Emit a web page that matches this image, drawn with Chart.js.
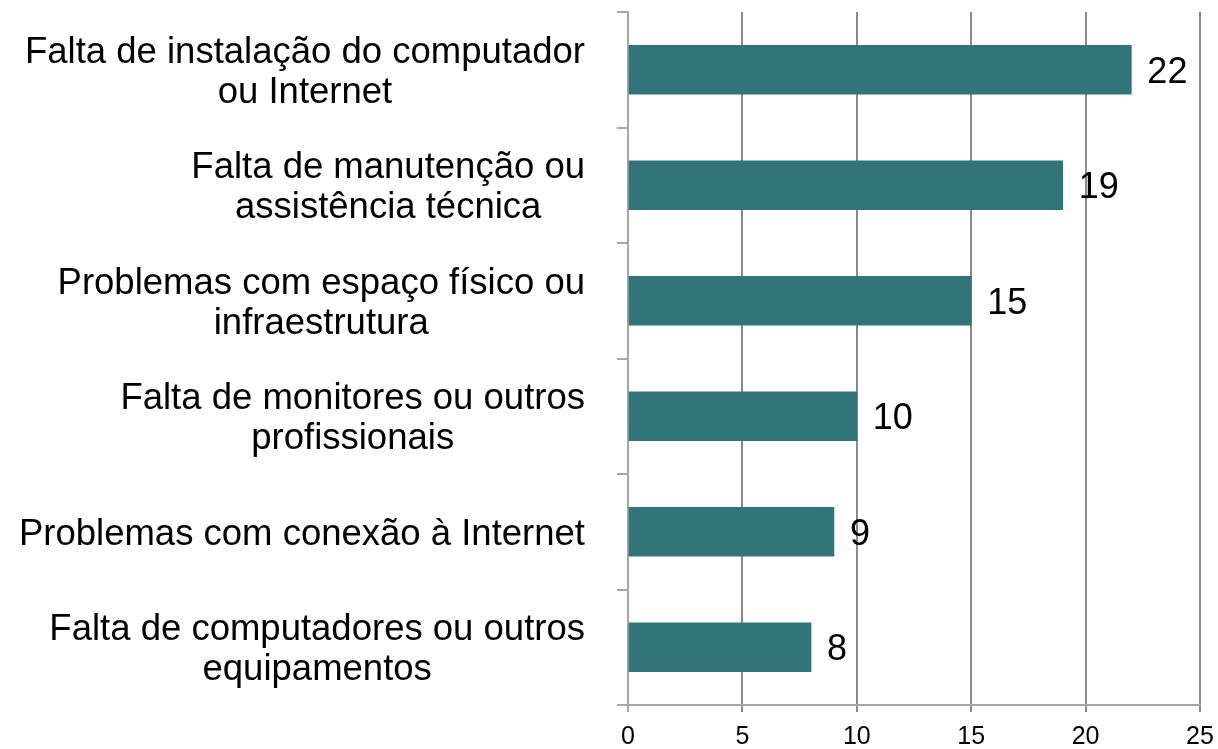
<!DOCTYPE html>
<html>
<head>
<meta charset="utf-8">
<script src="https://cdn.jsdelivr.net/npm/chart.js@4/dist/chart.umd.min.js"></script>
<style>
  html, body { margin: 0; padding: 0; background: #ffffff; }
  #wrap { width: 1218px; height: 749px; position: relative; }
</style>
</head>
<body>
<div id="wrap"><canvas id="chart"></canvas></div>
<script>
// categorias (de cima para baixo)
const categories = [
    ['Falta de instalação do computador', 'ou Internet'],
    ['Falta de manutenção ou', 'assistência técnica'],
    ['Problemas com espaço físico ou', 'infraestrutura'],
    ['Falta de monitores ou outros', 'profissionais'],
    ['Problemas com conexão à Internet'],
    ['Falta de computadores ou outros', 'equipamentos']
];
const values = [22, 19, 15, 10, 9, 8];
const xTicks = [0, 5, 10, 15, 20, 25];

const FONT = '"Liberation Sans", Arial, sans-serif';

// rótulos das categorias: bloco alinhado à direita, linhas centralizadas entre si
const categoryLabels = {
    id: 'categoryLabels',
    afterDraw(chart) {
        const ctx = chart.ctx;
        const yScale = chart.scales.y;
        const right = yScale.right - 43;
        const lineH = 40;
        ctx.save();
        ctx.font = '36.5px ' + FONT;
        ctx.fillStyle = '#000000';
        ctx.textAlign = 'center';
        ctx.textBaseline = 'middle';
        categories.forEach((lines, i) => {
            const y = yScale.getPixelForValue(i) + 3;
            const maxW = Math.max(...lines.map(l => ctx.measureText(l).width));
            const cx = right - maxW / 2;
            const top = y - (lines.length - 1) * lineH / 2;
            lines.forEach((l, j) => ctx.fillText(l, cx, top + j * lineH));
        });
        ctx.restore();
    }
};

// rótulos de valor no fim das barras
const valueLabels = {
    id: 'valueLabels',
    afterDatasetsDraw(chart) {
        const ctx = chart.ctx;
        const meta = chart.getDatasetMeta(0);
        ctx.save();
        ctx.font = '36px ' + FONT;
        ctx.fillStyle = '#000000';
        ctx.textAlign = 'left';
        ctx.textBaseline = 'middle';
        meta.data.forEach((bar, i) => {
            ctx.fillText(String(values[i]), bar.x + 16, bar.y + 3);
        });
        ctx.restore();
    }
};

const ctx = document.getElementById('chart').getContext('2d');
new Chart(ctx, {
    type: 'bar',
    data: {
        labels: categories,
        datasets: [{
            data: values,
            backgroundColor: '#317578',
            borderWidth: 0,
            barThickness: 49
        }]
    },
    options: {
        indexAxis: 'y',
        responsive: true,
        maintainAspectRatio: false,
        animation: false,
        layout: { padding: { top: 12, right: 18, left: 0, bottom: 0 } },
        plugins: {
            legend: { display: false },
            tooltip: { enabled: false }
        },
        scales: {
            x: {
                min: 0,
                max: 25,
                afterBuildTicks: (scale) => {
                    scale.ticks = xTicks.map(v => ({ value: v }));
                },
                afterFit: (scale) => {
                    scale.height = 44;
                    scale.paddingLeft = 0;
                    scale.paddingRight = 0;
                },
                border: { display: true, color: '#a6a6a6', width: 2 },
                grid: {
                    color: (c) => c.index === 0 ? '#a6a6a6' : '#8a8a8a',
                    lineWidth: 2,
                    tickLength: 7,
                    drawTicks: true
                },
                ticks: {
                    color: '#000000',
                    padding: 10,
                    font: { family: FONT, size: 25 }
                }
            },
            y: {
                afterFit: (scale) => {
                    scale.width = 628;
                    scale.paddingTop = 0;
                    scale.paddingBottom = 0;
                },
                border: { display: true, color: '#a6a6a6', width: 2 },
                grid: {
                    offset: true,
                    drawOnChartArea: false,
                    drawTicks: true,
                    tickLength: 11,
                    color: '#a6a6a6',
                    lineWidth: 2
                },
                ticks: { display: false }
            }
        }
    },
    plugins: [valueLabels, categoryLabels]
});
</script>
</body>
</html>
